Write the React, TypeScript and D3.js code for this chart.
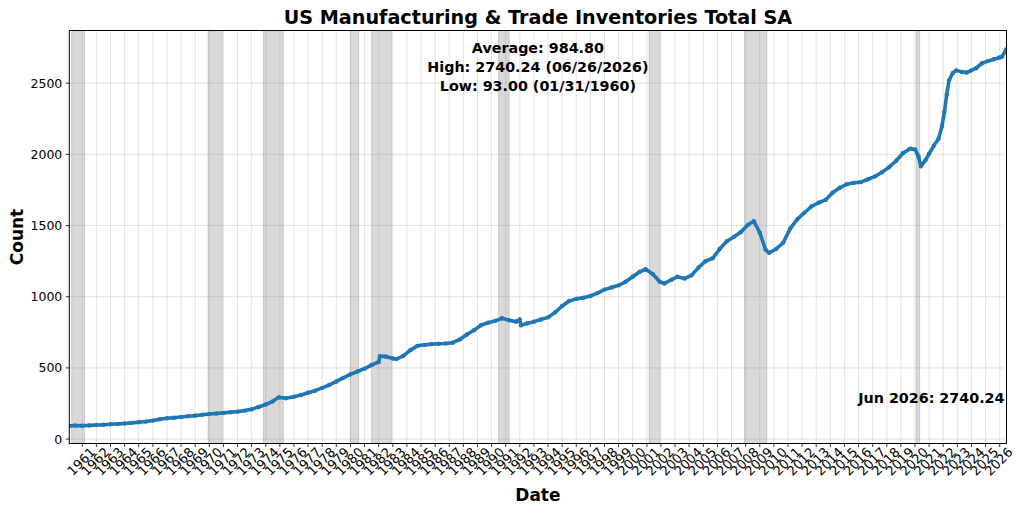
import React from 'react';
import * as d3 from 'd3';

// monthly-ish readings of the series (billions)
const dates = [
  '1960-01-31', '1960-07', '1961-01', '1961-07', '1962-01', '1962-07', '1963-01', '1963-07',
  '1964-01', '1964-07', '1965-01', '1965-07', '1966-01', '1966-07', '1967-01', '1967-07',
  '1968-01', '1968-07', '1969-01', '1969-07', '1970-01', '1970-07', '1971-01', '1971-07',
  '1972-01', '1972-07', '1973-01', '1973-07', '1974-01', '1974-07', '1974-12', '1975-06',
  '1976-01', '1976-07', '1977-01', '1977-07', '1978-01', '1978-07', '1979-01', '1979-07',
  '1980-01', '1980-07', '1981-01', '1981-07', '1982-01', '1982-02', '1982-07', '1983-01',
  '1983-04', '1983-10', '1984-04', '1984-10', '1985-04', '1985-10', '1986-04', '1986-10',
  '1987-04', '1987-10', '1988-04', '1988-10', '1989-04', '1989-10', '1990-04', '1990-10',
  '1991-04', '1991-10', '1992-01', '1992-02', '1992-07', '1993-01', '1993-07', '1994-01',
  '1994-07', '1995-01', '1995-07', '1996-01', '1996-07', '1997-01', '1997-07', '1998-01',
  '1998-07', '1999-01', '1999-07', '2000-01', '2000-07', '2000-12', '2001-06', '2001-12',
  '2002-04', '2002-10', '2003-03', '2003-09', '2004-03', '2004-09', '2005-03', '2005-09',
  '2006-03', '2006-09', '2007-03', '2007-09', '2008-03', '2008-08', '2009-01', '2009-06',
  '2009-09', '2010-03', '2010-09', '2011-03', '2011-09', '2012-03', '2012-09', '2013-03',
  '2013-09', '2014-03', '2014-09', '2015-03', '2015-09', '2016-03', '2016-09', '2017-03',
  '2017-09', '2018-03', '2018-09', '2019-03', '2019-09', '2020-01', '2020-04', '2020-06',
  '2020-10', '2021-01', '2021-05', '2021-09', '2021-12', '2022-02', '2022-04', '2022-06',
  '2022-09', '2022-12', '2023-05', '2023-09', '2024-01', '2024-05', '2024-10', '2025-03',
  '2025-08', '2026-01', '2026-03', '2026-06-26',
];

const values = [
  93, 95, 94, 96, 99, 101, 104, 107,
  110, 114, 118, 123, 130, 139, 146, 150,
  155, 160, 165, 171, 176, 180, 184, 188,
  193, 200, 210, 225, 243, 265, 293, 287,
  298, 310, 325, 340, 360, 380, 405, 430,
  455, 475, 495, 520, 542, 583, 580, 566,
  562, 585, 625, 655, 662, 667, 670, 671,
  677, 700, 735, 765, 800, 818, 830, 849,
  835, 825, 840, 800, 812, 825, 840, 855,
  890, 935, 970, 985, 993, 1005, 1025, 1050,
  1065, 1080, 1105, 1140, 1175, 1193, 1160, 1105,
  1093, 1120, 1140, 1128, 1150, 1205, 1250, 1270,
  1335, 1390, 1420, 1455, 1505, 1530, 1450, 1330,
  1308, 1335, 1380, 1480, 1545, 1590, 1635, 1660,
  1680, 1730, 1765, 1790, 1800, 1805, 1825, 1845,
  1875, 1910, 1955, 2010, 2040, 2035, 1985, 1916,
  1960, 2005, 2060, 2110, 2200, 2300, 2420, 2520,
  2570, 2590, 2578, 2575, 2590, 2605, 2640, 2655,
  2668, 2680, 2685, 2740.24,
];

const recessionStarts = ['1960-04', '1969-12', '1973-11', '1980-01', '1981-07', '1990-07', '2001-03', '2007-12', '2020-02'];
const recessionEnds = ['1961-02', '1970-11', '1975-03', '1980-07', '1982-11', '1991-03', '2001-11', '2009-06', '2020-04'];

const yTicks = [0, 500, 1000, 1500, 2000, 2500];
const firstTickYear = 1961;
const lastTickYear = 2026;

const title = 'US Manufacturing & Trade Inventories Total SA';
const statLines = ['Average: 984.80', 'High: 2740.24 (06/26/2026)', 'Low: 93.00 (01/31/1960)'];
const lastLabel = 'Jun 2026: 2740.24';

const parseDay = d3.timeParse('%Y-%m-%d');
const parseMonth = d3.timeParse('%Y-%m');
const parse = (s: string) => (s.length > 7 ? parseDay(s)! : parseMonth(s)!);

const FONT = '"DejaVu Sans", sans-serif';

export default function App() {
  const width = 1024;
  const height = 513;
  const plot = { left: 69.3, right: 1006.5, top: 30.5, bottom: 443.5 };

  const points = dates.map((d, i) => ({ date: parse(d), value: values[i] }));

  const x = d3.scaleTime()
    .domain([points[0].date, points[points.length - 1].date])
    .range([plot.left, plot.right]);
  const y = d3.scaleLinear().domain([-31, 2870]).range([plot.bottom, plot.top]);

  const line = d3.line<{ date: Date; value: number }>()
    .x(d => x(d.date))
    .y(d => y(d.value));

  const years = d3.range(firstTickYear, lastTickYear + 1);
  const cx = (plot.left + plot.right) / 2;

  return (
    <svg width={width} height={height} style={{ position: 'absolute', left: 0, top: 0, background: '#fff' }}
      fontFamily={FONT}>
      <defs>
        <clipPath id="plot-clip">
          <rect x={plot.left} y={plot.top} width={plot.right - plot.left} height={plot.bottom - plot.top} />
        </clipPath>
      </defs>

      {/* grid */}
      <g stroke="#b0b0b0" strokeOpacity={0.45} strokeWidth={0.8}>
        {years.map(yr => {
          const tx = x(new Date(yr, 0, 1));
          return <line key={yr} x1={tx} x2={tx} y1={plot.top} y2={plot.bottom} />;
        })}
        {yTicks.map(t => (
          <line key={t} x1={plot.left} x2={plot.right} y1={y(t)} y2={y(t)} />
        ))}
      </g>

      {/* recession shading */}
      <g fill="#808080" fillOpacity={0.3} stroke="#808080" strokeOpacity={0.3} strokeWidth={1}>
        {recessionStarts.map((s, i) => {
          const x0 = x(parse(s));
          const x1 = x(d3.timeMonth.offset(parse(recessionEnds[i]), 1));
          return <rect key={s} x={x0} y={plot.top} width={x1 - x0} height={plot.bottom - plot.top} />;
        })}
      </g>

      {/* series */}
      <g clipPath="url(#plot-clip)">
        <path d={line(points) ?? ''} fill="none" stroke="#1f77b4" strokeWidth={3.6} strokeLinejoin="round" strokeLinecap="round" />
        {points.map((p, i) => (
          <circle key={i} cx={x(p.date)} cy={y(p.value)} r={2.2} fill="#1f77b4" />
        ))}
      </g>

      {/* spines */}
      <rect x={plot.left} y={plot.top} width={plot.right - plot.left} height={plot.bottom - plot.top}
        fill="none" stroke="#000" strokeWidth={1} />

      {/* y axis */}
      <g fontSize={12.5} fill="#000">
        {yTicks.map(t => (
          <g key={t}>
            <line x1={plot.left - 3.5} x2={plot.left} y1={y(t)} y2={y(t)} stroke="#000" strokeWidth={0.8} />
            <text x={plot.left - 7} y={y(t)} textAnchor="end" dominantBaseline="central">{t}</text>
          </g>
        ))}
      </g>

      {/* x axis */}
      <g fontSize={13} fill="#000">
        {years.map(yr => {
          const tx = x(new Date(yr, 0, 1));
          return (
            <g key={yr}>
              <line x1={tx} x2={tx} y1={plot.bottom} y2={plot.bottom + 3.5} stroke="#000" strokeWidth={0.8} />
              <text transform={`translate(${tx - 1},${plot.bottom + 18}) rotate(-45)`} textAnchor="middle"
                dominantBaseline="central">{yr}</text>
            </g>
          );
        })}
      </g>

      {/* labels */}
      <text x={cx} y={24} textAnchor="middle" fontSize={19.2} fontWeight="bold">{title}</text>
      <text x={cx} y={501} textAnchor="middle" fontSize={17} fontWeight="bold">Date</text>
      <text transform={`translate(23,${(plot.top + plot.bottom) / 2}) rotate(-90)`} textAnchor="middle"
        fontSize={17} fontWeight="bold">Count</text>

      <g fontSize={14.3} fontWeight="bold" textAnchor="middle">
        {statLines.map((s, i) => (
          <text key={s} x={cx} y={53 + i * 19}>{s}</text>
        ))}
      </g>
      <text x={plot.right - 2} y={403} textAnchor="end" fontSize={14.3} fontWeight="bold">{lastLabel}</text>
    </svg>
  );
}
